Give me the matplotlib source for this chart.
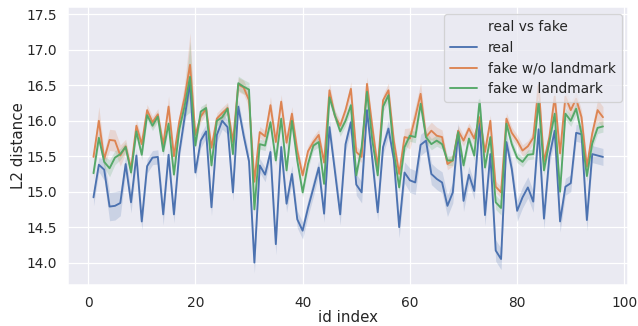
import numpy as np
import matplotlib
matplotlib.use("Agg")
import matplotlib.pyplot as plt
from matplotlib.lines import Line2D
import seaborn as sns

ids = list(range(1, 97))

real = [14.92, 15.38, 15.31, 14.79, 14.80, 14.84, 15.39, 14.85, 15.51, 14.58,
        15.36, 15.48, 15.49, 14.68, 15.52, 14.68, 15.55, 16.05, 16.54, 15.27,
        15.72, 15.85, 14.78, 15.80, 16.00, 15.91, 14.99, 16.20, 15.79, 15.43,
        14.00, 15.37, 15.24, 15.56, 14.26, 15.63, 14.83, 15.25, 14.61, 14.45,
        14.77, 15.05, 15.34, 14.69, 15.91, 15.30, 14.68, 15.67, 15.98, 15.10,
        14.99, 16.15, 15.45, 14.71, 15.63, 15.89, 15.46, 14.50, 15.27, 15.16,
        15.13, 15.66, 15.72, 15.25, 15.18, 15.13, 14.80, 14.99, 15.85, 14.87,
        15.24, 15.01, 15.98, 14.67, 15.53, 14.17, 14.05, 15.70, 15.32, 14.73,
        14.92, 15.06, 14.86, 15.88, 14.62, 15.49, 15.86, 14.58, 15.07, 15.12,
        15.83, 15.81, 14.60, 15.53, 15.51, 15.49]

fake_wo = [15.49, 16.00, 15.46, 15.73, 15.72, 15.51, 15.64, 15.32, 15.93, 15.67,
           16.15, 15.98, 16.09, 15.66, 16.20, 15.50, 15.99, 16.33, 16.79, 15.80,
           16.06, 16.17, 15.62, 16.03, 16.11, 16.18, 15.70, 16.51, 16.47, 16.29,
           15.14, 15.84, 15.78, 16.22, 15.70, 16.27, 15.69, 16.10, 15.58, 15.23,
           15.57, 15.70, 15.80, 15.41, 16.43, 16.07, 15.93, 16.15, 16.45, 15.56,
           15.49, 16.52, 15.91, 15.34, 16.29, 16.43, 15.72, 15.25, 15.77, 15.75,
           16.05, 16.38, 15.77, 15.86, 15.79, 15.77, 15.39, 15.44, 15.86, 15.72,
           15.89, 15.75, 16.05, 15.56, 16.00, 15.07, 14.99, 16.03, 15.83, 15.72,
           15.58, 15.64, 15.76, 16.50, 15.42, 15.77, 16.34, 15.54, 16.34, 16.15,
           16.31, 16.05, 15.35, 15.82, 16.15, 16.05]

fake_w = [15.26, 15.76, 15.42, 15.33, 15.48, 15.53, 15.63, 15.27, 15.85, 15.52,
          16.08, 15.93, 16.06, 15.57, 15.96, 15.24, 15.88, 16.21, 16.62, 15.65,
          16.13, 16.18, 15.37, 16.00, 16.05, 16.17, 15.53, 16.53, 16.48, 16.44,
          14.75, 15.67, 15.65, 15.98, 15.44, 16.03, 15.30, 16.00, 15.44, 14.99,
          15.39, 15.65, 15.70, 15.11, 16.33, 16.08, 15.85, 16.00, 16.22, 15.23,
          15.63, 16.41, 15.72, 15.23, 16.20, 16.36, 15.56, 15.06, 15.63, 15.79,
          15.77, 16.24, 15.77, 15.67, 15.72, 15.67, 15.44, 15.44, 15.84, 15.37,
          15.75, 15.51, 16.29, 15.34, 15.77, 14.85, 14.77, 15.96, 15.67, 15.48,
          15.42, 15.52, 15.53, 16.27, 15.30, 15.70, 16.10, 15.00, 16.10, 16.00,
          16.17, 15.82, 15.22, 15.68, 15.90, 15.92]

real_ci = [0.12, 0.10, 0.15, 0.20, 0.20, 0.18, 0.12, 0.15, 0.10, 0.12,
           0.10, 0.10, 0.10, 0.15, 0.10, 0.12, 0.10, 0.10, 0.12, 0.10,
           0.10, 0.10, 0.12, 0.10, 0.12, 0.10, 0.12, 0.10, 0.10, 0.10,
           0.15, 0.10, 0.10, 0.10, 0.15, 0.10, 0.12, 0.12, 0.12, 0.12,
           0.12, 0.12, 0.10, 0.12, 0.12, 0.12, 0.15, 0.10, 0.12, 0.15,
           0.15, 0.15, 0.12, 0.12, 0.10, 0.12, 0.12, 0.15, 0.15, 0.17,
           0.17, 0.15, 0.15, 0.15, 0.15, 0.15, 0.15, 0.15, 0.12, 0.15,
           0.12, 0.12, 0.12, 0.15, 0.12, 0.15, 0.15, 0.12, 0.12, 0.15,
           0.15, 0.15, 0.15, 0.12, 0.15, 0.12, 0.12, 0.15, 0.12, 0.12,
           0.12, 0.12, 0.15, 0.12, 0.12, 0.12]

fake_wo_ci = [0.10, 0.20, 0.10, 0.15, 0.15, 0.15, 0.10, 0.08, 0.08, 0.08,
              0.08, 0.08, 0.08, 0.08, 0.15, 0.08, 0.10, 0.20, 0.45, 0.08,
              0.08, 0.08, 0.08, 0.08, 0.08, 0.08, 0.08, 0.10, 0.10, 0.10,
              0.10, 0.08, 0.08, 0.12, 0.08, 0.10, 0.08, 0.10, 0.08, 0.08,
              0.08, 0.08, 0.08, 0.08, 0.10, 0.08, 0.08, 0.08, 0.10, 0.08,
              0.08, 0.10, 0.08, 0.08, 0.08, 0.10, 0.08, 0.08, 0.12, 0.15,
              0.15, 0.15, 0.12, 0.12, 0.12, 0.10, 0.08, 0.08, 0.08, 0.08,
              0.08, 0.08, 0.08, 0.08, 0.08, 0.08, 0.08, 0.08, 0.08, 0.08,
              0.08, 0.08, 0.08, 0.10, 0.08, 0.08, 0.12, 0.12, 0.12, 0.12,
              0.10, 0.10, 0.10, 0.10, 0.15, 0.15]

fake_w_ci = [0.08, 0.08, 0.08, 0.12, 0.10, 0.08, 0.07, 0.07, 0.07, 0.07,
             0.07, 0.07, 0.07, 0.07, 0.07, 0.07, 0.07, 0.15, 0.50, 0.07,
             0.07, 0.07, 0.07, 0.07, 0.07, 0.07, 0.07, 0.10, 0.10, 0.10,
             0.08, 0.07, 0.07, 0.07, 0.07, 0.07, 0.07, 0.07, 0.07, 0.07,
             0.07, 0.07, 0.07, 0.07, 0.08, 0.07, 0.07, 0.07, 0.08, 0.07,
             0.07, 0.08, 0.07, 0.07, 0.07, 0.08, 0.07, 0.07, 0.08, 0.08,
             0.08, 0.08, 0.08, 0.08, 0.08, 0.07, 0.07, 0.07, 0.07, 0.07,
             0.07, 0.07, 0.08, 0.07, 0.07, 0.10, 0.10, 0.07, 0.07, 0.07,
             0.07, 0.07, 0.07, 0.08, 0.07, 0.07, 0.08, 0.08, 0.08, 0.08,
             0.08, 0.08, 0.08, 0.08, 0.08, 0.08]

labels = ["real", "fake w/o landmark", "fake w landmark"]
legend_title = "real vs fake"

sns.set_theme(style="darkgrid")
plt.rcParams['font.family'] = ['DejaVu Sans']

DPI = 90
fig = plt.figure(figsize=(638 / DPI, 326 / DPI), dpi=DPI)
ax = fig.add_axes([0.1066, 0.126, 0.8784, 0.8516])

colors = sns.color_palette("deep")[:3]
series = [(real, real_ci), (fake_wo, fake_wo_ci), (fake_w, fake_w_ci)]
x = np.array(ids)
handles = [Line2D([], [], color="none", label=legend_title)]
for (vals, ci), lab, c in zip(series, labels, colors):
    v = np.array(vals)
    e = np.array(ci)
    ax.fill_between(x, v - e, v + e, color=c, alpha=0.2, linewidth=0)
    ln, = ax.plot(x, v, color=c, lw=1.5, label=lab)
    handles.append(ln)

ax.set_xlim(-3.75, 100.75)
ax.set_ylim(13.685, 17.6)
ax.set_yticks([14.0, 14.5, 15.0, 15.5, 16.0, 16.5, 17.0, 17.5])
ax.set_xticks([0, 20, 40, 60, 80, 100])
ax.tick_params(axis="both", pad=3)
ax.set_xlabel("id index", labelpad=0)
ax.set_ylabel("L2 distance", labelpad=0)
ax.legend(handles=handles, loc="upper right")

fig.savefig("out.png", dpi=DPI)
